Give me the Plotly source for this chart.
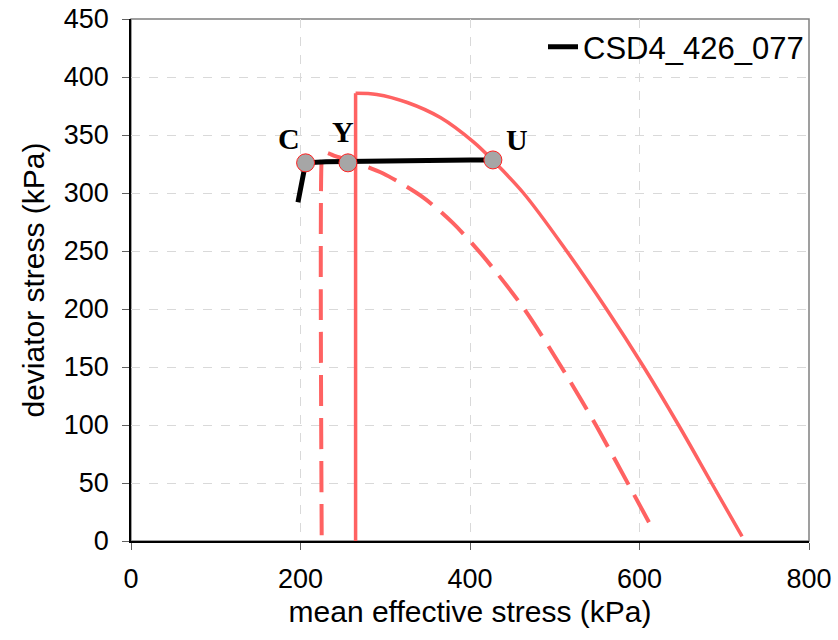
import plotly.graph_objects as go

# Effective stress path of the test (p', q)
path_p = [197, 200, 203, 206, 230, 256, 300, 350, 400, 427]
path_q = [292, 305, 317, 326, 327, 327, 327.5, 328, 328.5, 328.5]

# Outer yield surface (solid): vertical flank, then the cap
outer_p = [265, 265, 290, 326, 365, 404, 427, 463, 514, 561, 605, 646, 685, 721]
outer_q = [0, 386, 385, 378, 365, 344, 328, 300, 250, 200, 150, 100, 50, 4]

# Inner yield surface (dashed)
inner_p = [225, 225, 226, 229, 234, 240, 258, 297, 345, 380, 415, 463,
           512, 550, 592, 618]
inner_q = [5, 329, 333, 335, 334, 332, 328, 317, 296, 274, 246, 201,
           145, 98, 42, 7]

# Characteristic points on the path
pt_names = ["C", "Y", "U"]
pt_p = [206, 256, 427]
pt_q = [326, 326, 328.5]

x_ticks = [0, 200, 400, 600, 800]
y_ticks = [0, 50, 100, 150, 200, 250, 300, 350, 400, 450]

RED = "#FF6262"
label_offsets = {"C": (-17, 24), "Y": (-5, 31), "U": (24, 20)}

fig = go.Figure()

# dashed surface
fig.add_trace(go.Scatter(x=inner_p, y=inner_q, mode="lines", showlegend=False,
                         line=dict(color=RED, width=4, dash="31px,12px",
                                   shape="spline", smoothing=0.8)))
# solid surface: flank drawn straight, cap smoothed
fig.add_trace(go.Scatter(x=outer_p[:2], y=outer_q[:2], mode="lines", showlegend=False,
                         line=dict(color=RED, width=3.5)))
fig.add_trace(go.Scatter(x=outer_p[1:], y=outer_q[1:], mode="lines", showlegend=False,
                         line=dict(color=RED, width=3.5, shape="spline", smoothing=1.0)))
fig.add_trace(go.Scatter(x=path_p, y=path_q, mode="lines", name="CSD4_426_077",
                         line=dict(color="black", width=5)))
fig.add_trace(go.Scatter(x=pt_p, y=pt_q, mode="markers", showlegend=False,
                         marker=dict(size=18, color="#A6A6A6",
                                     line=dict(color="#FF2020", width=1))))

for name, p, q in zip(pt_names, pt_p, pt_q):
    dx, dy = label_offsets[name]
    fig.add_annotation(x=p, y=q, text="<b>" + name + "</b>", showarrow=False,
                       xshift=dx, yshift=dy,
                       font=dict(family="Liberation Serif", size=30, color="black"))

# light frame on top/right; black axes on left/bottom
fig.add_shape(type="rect", xref="x domain", yref="y domain", x0=0, x1=1, y0=0, y1=1,
              line=dict(color="#808080", width=1.5), layer="below")

tick_font = dict(family="Liberation Sans", size=27, color="black")
title_font = dict(family="Liberation Sans", size=30, color="black")

fig.update_layout(
    width=838, height=640,
    margin=dict(l=131, r=29, t=19, b=99, autoexpand=False),
    paper_bgcolor="white", plot_bgcolor="white",
    font=tick_font,
    legend=dict(x=1, xanchor="right", y=0.946, yanchor="middle", bgcolor="rgba(0,0,0,0)",
                font=dict(family="Liberation Sans", size=31, color="black"),
                itemwidth=30),
    xaxis=dict(range=[0, 800], tickvals=x_ticks, showline=True, linecolor="black",
               linewidth=1.5, ticks="outside", ticklen=7, tickcolor="#606060",
               showgrid=True, gridcolor="#D9D9D9", griddash="dash", gridwidth=1,
               zeroline=False, tickfont=tick_font, ticklabelstandoff=6,
               title=dict(text="mean effective stress (kPa)", font=title_font, standoff=8)),
    yaxis=dict(range=[0, 450], tickvals=y_ticks, showline=True, linecolor="black",
               linewidth=1.5, ticks="outside", ticklen=7, tickcolor="#606060",
               showgrid=True, gridcolor="#D9D9D9", griddash="dash", gridwidth=1,
               zeroline=False, tickfont=tick_font, ticklabelstandoff=8,
               title=dict(text="deviator stress (kPa)", font=title_font, standoff=10)),
)

fig.write_html("out.html")
